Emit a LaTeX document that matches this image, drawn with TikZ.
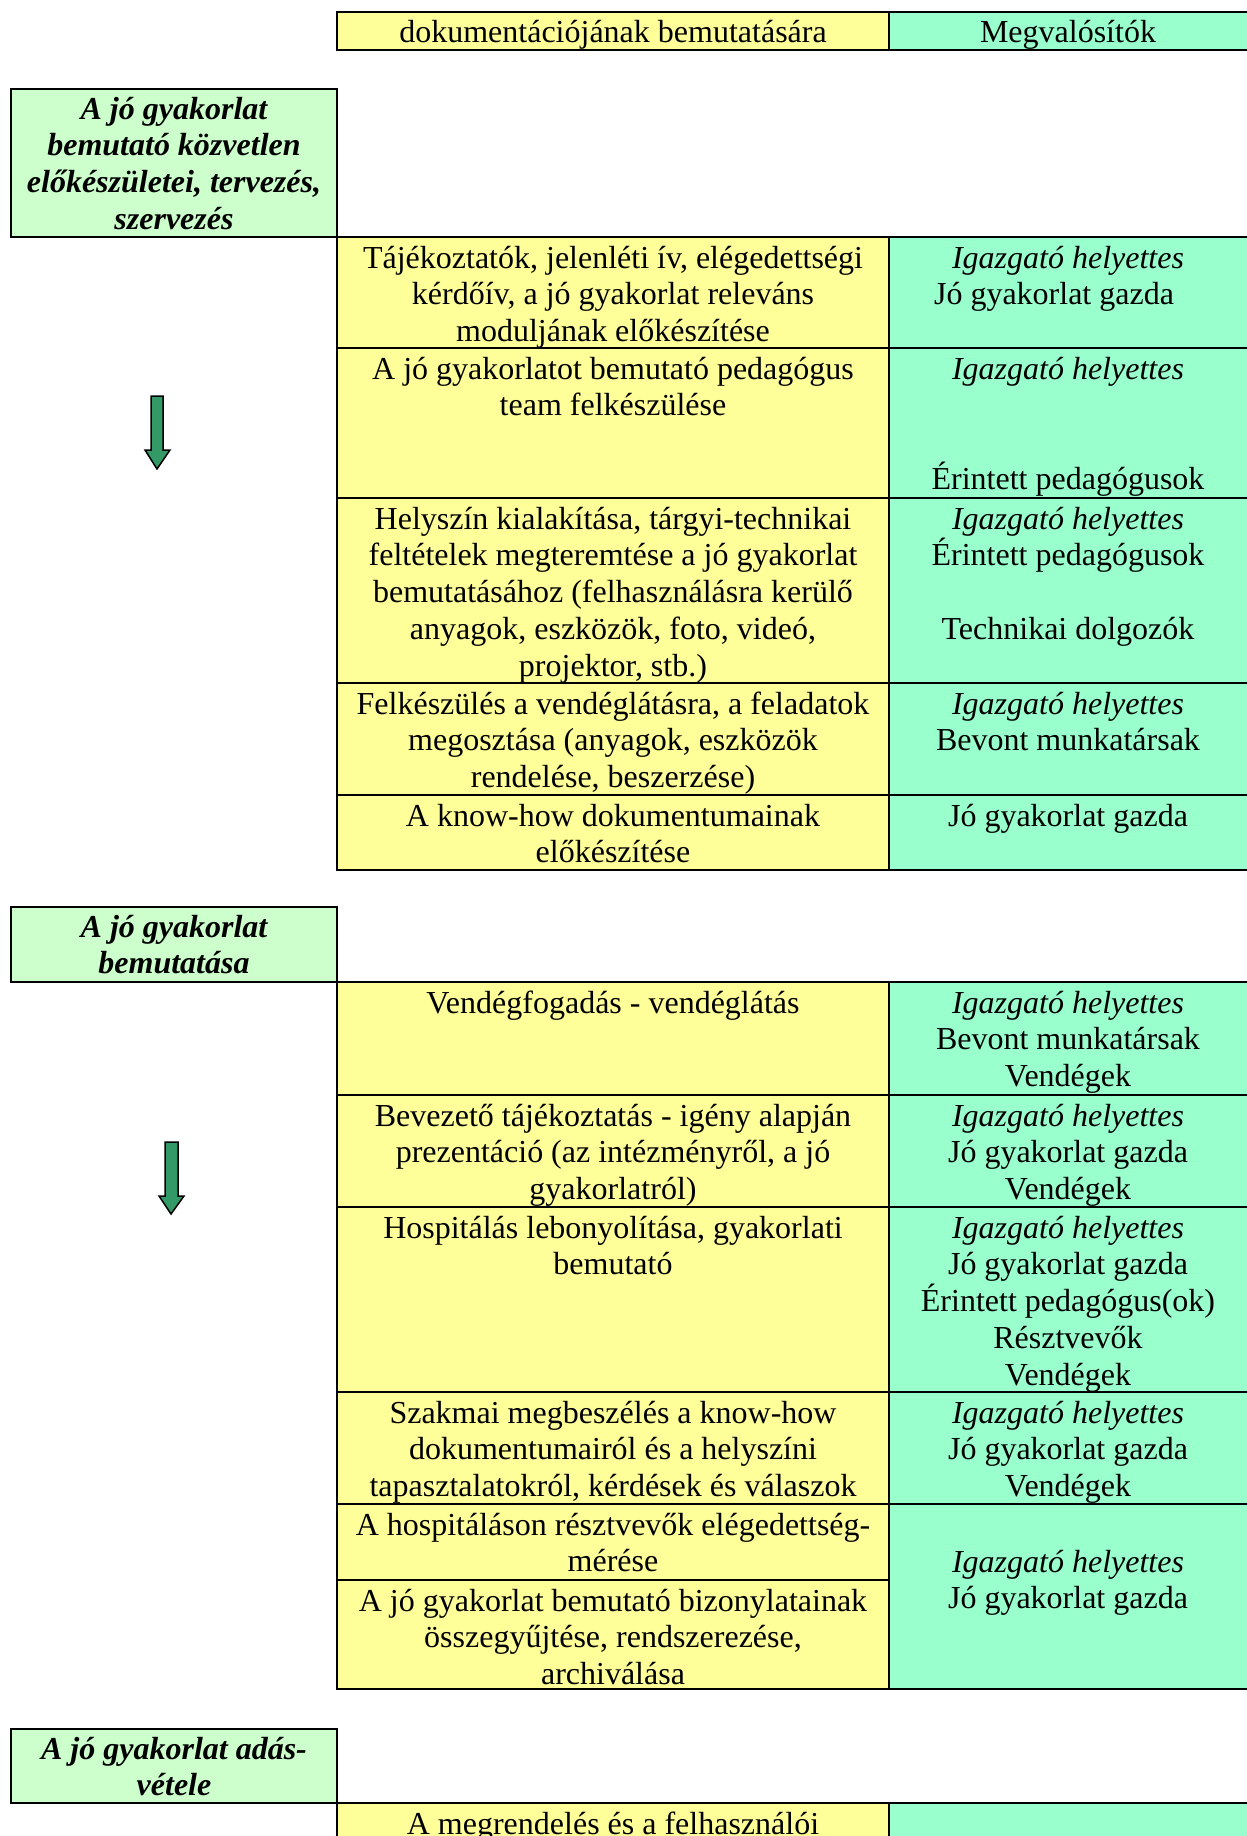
\documentclass[tikz,border=0pt]{standalone}
\usepackage{fontspec}
\setmainfont{Liberation Serif}
\definecolor{cyel}{HTML}{FFFF99}
\definecolor{cgrn}{HTML}{99FFCC}
\definecolor{chdr}{HTML}{CCFFCC}
\definecolor{carrow}{HTML}{339966}
\newcommand\fstrut{\rule{0pt}{30pt}}
\begin{document}
\begin{tikzpicture}[x=1pt,y=-1pt,line width=2pt,
  txt/.style={font=\fontsize{32}{36.8}\selectfont, align=center, anchor=north, inner sep=0pt},
  hdr/.style={txt, font=\fontsize{32}{36.8}\selectfont\bfseries\itshape},
  ycell/.style={fill=cyel, draw=black},
  gcell/.style={fill=cgrn, draw=black},
  hcell/.style={fill=chdr, draw=black},
  flow/.style={fill=carrow, draw=black, line width=1.5pt, line join=miter}]
\useasboundingbox (0,0) rectangle (1247,1836);
\fill[white] (0,0) rectangle (1247,1836);
\clip (0,0) rectangle (1247,1836);

% top row
\path[ycell] (337,12) rectangle (889,50);
\path[gcell] (889,12) rectangle (1262,50);
\node[txt] (t1) at (613,12) {\rule{0pt}{29.5pt}dokumentációjának bemutatására};
\node[txt] (t2) at (1068,12) {\rule{0pt}{29.5pt}Megvalósítók};

% section 1
\path[hcell] (11,89) rectangle (337,237);
\node[hdr] (h1) at (174,90) {\rule{0pt}{28pt}A jó gyakorlat\\ bemutató közvetlen\\ előkészületei, tervezés,\\ szervezés};

\path[ycell] (337,237) rectangle (889,348);
\path[gcell] (889,237) rectangle (1262,348);
\path[ycell] (337,348) rectangle (889,498);
\path[gcell] (889,348) rectangle (1262,498);
\path[ycell] (337,498) rectangle (889,683);
\path[gcell] (889,498) rectangle (1262,683);
\path[ycell] (337,683) rectangle (889,795);
\path[gcell] (889,683) rectangle (1262,795);
\path[ycell] (337,795) rectangle (889,870);
\path[gcell] (889,795) rectangle (1262,870);

\node[txt] (a1) at (613,237) {\fstrut Tájékoztatók, jelenléti ív, elégedettségi\\ kérdőív, a jó gyakorlat releváns\\ moduljának előkészítése};
\node[txt] (b1) at (1068,237) {\fstrut\textit{Igazgató helyettes}\\ Jó gyakorlat gazda\hspace*{28pt}};
\node[txt] (a2) at (613,348) {\fstrut A jó gyakorlatot bemutató pedagógus\\ team felkészülése};
\node[txt] (b2) at (1068,348) {\fstrut\textit{Igazgató helyettes}\\[73.6pt] Érintett pedagógusok};
\node[txt] (a3) at (613,498) {\fstrut Helyszín kialakítása, tárgyi-technikai\\ feltételek megteremtése a jó gyakorlat\\ bemutatásához (felhasználásra kerülő\\ anyagok, eszközök, foto, videó,\\ projektor, stb.)};
\node[txt] (b3) at (1068,498) {\fstrut\textit{Igazgató helyettes}\\ Érintett pedagógusok\\[36.8pt] Technikai dolgozók};
\node[txt] (a4) at (613,683) {\fstrut Felkészülés a vendéglátásra, a feladatok\\ megosztása (anyagok, eszközök\\ rendelése, beszerzése)};
\node[txt] (b4) at (1068,683) {\fstrut\textit{Igazgató helyettes}\\ Bevont munkatársak};
\node[txt] (a5) at (613,795) {\fstrut A know-how dokumentumainak\\ előkészítése};
\node[txt] (b5) at (1068,795) {\fstrut Jó gyakorlat gazda};

\path[flow] (151,396) -- (163,396) -- (163,450) -- (170,450) -- (157,469) -- (145,450) -- (151,450) -- cycle;

% section 2
\path[hcell] (11,907) rectangle (337,982);
\node[hdr] (h2) at (174,908) {\rule{0pt}{28pt}A jó gyakorlat\\ bemutatása};

\path[ycell] (337,982) rectangle (889,1095);
\path[gcell] (889,982) rectangle (1262,1095);
\path[ycell] (337,1095) rectangle (889,1207);
\path[gcell] (889,1095) rectangle (1262,1207);
\path[ycell] (337,1207) rectangle (889,1392);
\path[gcell] (889,1207) rectangle (1262,1392);
\path[ycell] (337,1392) rectangle (889,1504);
\path[gcell] (889,1392) rectangle (1262,1504);
\path[ycell] (337,1504) rectangle (889,1580);
\path[ycell] (337,1580) rectangle (889,1689);
\path[gcell] (889,1504) rectangle (1262,1689);

\node[txt] (c1) at (613,982) {\fstrut Vendégfogadás - vendéglátás};
\node[txt] (d1) at (1068,982) {\fstrut\textit{Igazgató helyettes}\\ Bevont munkatársak\\ Vendégek};
\node[txt] (c2) at (613,1095) {\fstrut Bevezető tájékoztatás - igény alapján\\ prezentáció (az intézményről, a jó\\ gyakorlatról)};
\node[txt] (d2) at (1068,1095) {\fstrut\textit{Igazgató helyettes}\\ Jó gyakorlat gazda\\ Vendégek};
\node[txt] (c3) at (613,1207) {\fstrut Hospitálás lebonyolítása, gyakorlati\\ bemutató};
\node[txt] (d3) at (1068,1207) {\fstrut\textit{Igazgató helyettes}\\ Jó gyakorlat gazda\\ Érintett pedagógus(ok)\\ Résztvevők\\ Vendégek};
\node[txt] (c4) at (613,1392) {\fstrut Szakmai megbeszélés a know-how\\ dokumentumairól és a helyszíni\\ tapasztalatokról, kérdések és válaszok};
\node[txt] (d4) at (1068,1392) {\fstrut\textit{Igazgató helyettes}\\ Jó gyakorlat gazda\\ Vendégek};
\node[txt] (c5) at (613,1504) {\fstrut A hospitáláson résztvevők elégedettség-\\ mérése};
\node[txt] (c6) at (613,1580) {\fstrut A jó gyakorlat bemutató bizonylatainak\\ összegyűjtése, rendszerezése,\\ archiválása};
\node[txt] (d5) at (1068,1541) {\fstrut\textit{Igazgató helyettes}\\ Jó gyakorlat gazda};

\path[flow] (165,1142) -- (178,1142) -- (178,1196) -- (184,1196) -- (171,1214) -- (159,1196) -- (165,1196) -- cycle;

% section 3
\path[hcell] (11,1729) rectangle (337,1803);
\node[hdr] (h3) at (174,1730) {\rule{0pt}{28pt}A jó gyakorlat adás-\\ vétele};
\path[ycell] (337,1803) rectangle (889,1860);
\path[gcell] (889,1803) rectangle (1262,1860);
\node[txt] (e1) at (613,1803) {\fstrut A megrendelés és a felhasználói};
\end{tikzpicture}
\end{document}
